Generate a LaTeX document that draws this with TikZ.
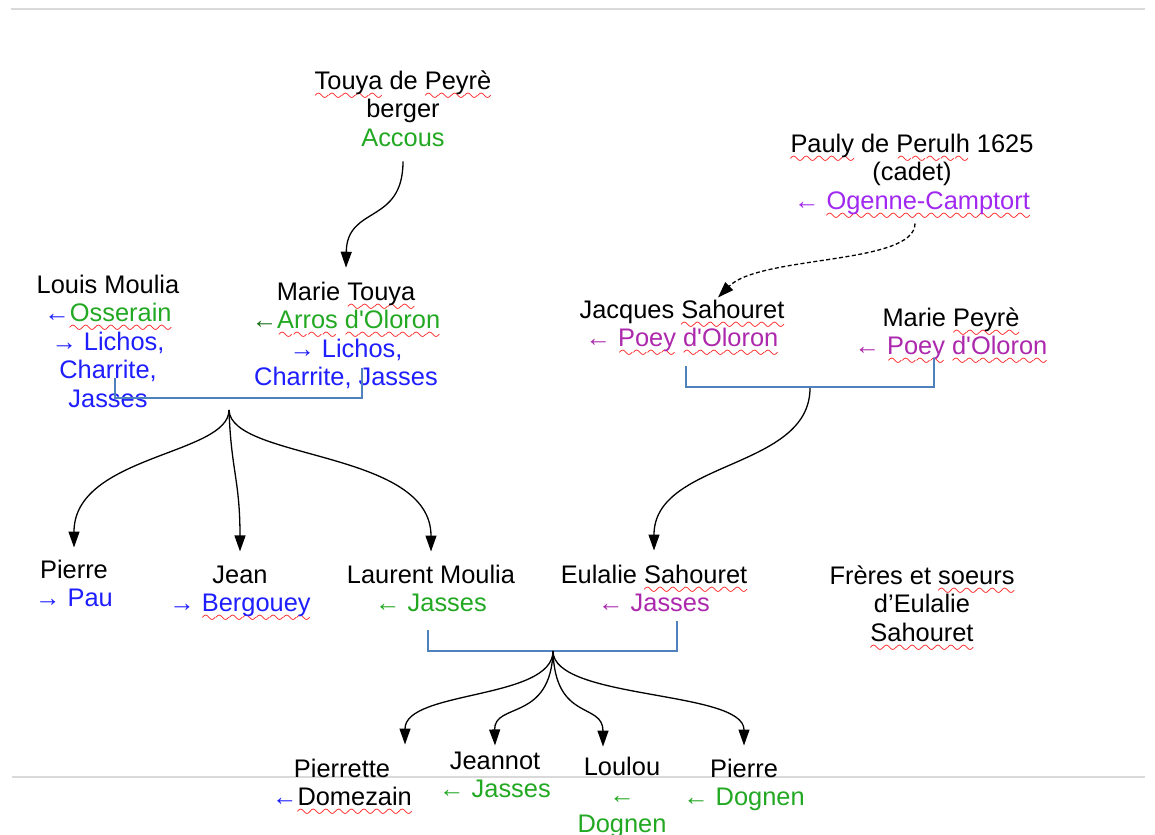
\documentclass[tikz,border=0pt]{standalone}
\usepackage{fontspec}
\setmainfont{Liberation Sans}[Ligatures=TeXOff]
\usetikzlibrary{arrows.meta}

\definecolor{vert}{RGB}{34,168,34}
\definecolor{vertfonce}{RGB}{24,110,24}
\definecolor{bleu}{RGB}{30,30,255}
\definecolor{lila}{RGB}{160,40,240}
\definecolor{prune}{RGB}{172,40,172}
\definecolor{lien}{RGB}{79,129,189}
\definecolor{gris}{RGB}{217,217,217}

% soulignement ondulé (correcteur)
\font\ondefont=lasy10 at 19bp
\newcommand\ondule[1]{\leavevmode\setbox0=\hbox{#1}\rlap{\smash{\lower11bp\hbox to \wd0{\color{red}\xleaders\hbox{\ondefont\char58}\hfil}}}\box0\relax}

\begin{document}
\begin{tikzpicture}[x=1bp, y=-1bp,
  every node/.style={font=\fontsize{25.5}{28.5}\selectfont, align=center, inner sep=2bp, anchor=base},
  lignee/.style={line width=1.3bp, -{Triangle[length=16bp,width=11bp]}},
  couple/.style={draw=lien, line width=1.4bp},
  bord/.style={draw=gris, line width=1.5bp}]

\useasboundingbox (0,0) rectangle (1155,835);

% Bords de page
\draw[bord] (11,9) -- (1145,9);
\draw[bord] (12,777) -- (1145,777);

% Ascendants (ancre = ligne de base de la derniere ligne)
\node (touya) at (403,146) {\ondule{Touya} de \ondule{Peyrè}\\berger\\\textcolor{vert}{Accous}};
\node (pauly) at (912,209) {\ondule{Pauly} de \ondule{Perulh} 1625\\(cadet)\\\textcolor{lila}{← \ondule{Ogenne-Camptort}}};

% Parents Moulia
\node (louis) at (108,407) {Louis Moulia\\\textcolor{bleu}{←}\textcolor{vert}{\ondule{Osserain}}\\\textcolor{bleu}{→ Lichos,}\\\textcolor{bleu}{Charrite,}\\\textcolor{bleu}{Jasses}};
\node (mtouya) at (346,385.5) {Marie \ondule{Touya}\\\textcolor{vertfonce}{←}\textcolor{vert}{\ondule{Arros} \ondule{d'Oloron}}\\\textcolor{bleu}{→ Lichos,}\\\textcolor{bleu}{Charrite, Jasses}};

% Parents Sahouret
\node (jacques) at (682,346.5) {Jacques \ondule{Sahouret}\\\textcolor{prune}{← \ondule{Poey} \ondule{d'Oloron}}};
\node (mpeyre) at (951,354.5) {Marie \ondule{Peyrè}\\\textcolor{prune}{← \ondule{Poey} \ondule{d'Oloron}}};

% Enfants
\node (pierre) at (74,606.5) {Pierre\\\textcolor{bleu}{→ Pau}};
\node (jean) at (240,611.5) {Jean\\\textcolor{bleu}{→ \ondule{Bergouey}}};
\node (laurent) at (431,611.5) {Laurent Moulia\\\textcolor{vert}{← Jasses}};
\node (eulalie) at (654,611.5) {Eulalie \ondule{Sahouret}\\\textcolor{prune}{← Jasses}};
\node (freres) at (922,641) {Frères et \ondule{soeurs}\\d’Eulalie\\\ondule{Sahouret}};

% Petits-enfants
\node (pierrette) at (342,805.5) {Pierrette\\\textcolor{bleu}{←}\ondule{Domezain}};
\node (jeannot) at (495,797.5) {Jeannot\\\textcolor{vert}{← Jasses}};
\node (loulou) at (622,832) {Loulou\\\textcolor{vert}{←}\\\textcolor{vert}{Dognen}};
\node (pierre2) at (744,805.5) {Pierre\\\textcolor{vert}{← Dognen}};

% Unions
\coordinate (c1g) at (115,378);
\coordinate (c1d) at (362,368);
\coordinate (f1) at (229,410);
\draw[couple] (c1g) -- ++(0,20) -| (c1d);

\coordinate (c2g) at (686,366);
\coordinate (c2d) at (934,358);
\coordinate (f2) at (810,388);
\draw[couple] (c2g) -- ++(0,21) -| (c2d);

\coordinate (c3g) at (428,630);
\coordinate (c3d) at (677,621);
\coordinate (f3) at (553,651);
\draw[couple] (c3g) -- ++(0,21) -| (c3d);

% Filiations
\draw[lignee] ([yshift=-13bp]touya.south) .. controls (403,225) and (347,205) .. ([yshift=12bp]mtouya.north);
\draw[lignee, dash pattern=on 4bp off 2.5bp] ([xshift=3bp,yshift=-7bp]pauly.south) .. controls (915,265) and (760,255) .. ([xshift=36bp]jacques.north);

\draw[lignee] (f1) .. controls (229,455) and (74,455) .. ([yshift=10bp]pierre.north);
\draw[lignee] (f1) .. controls (231,470) and (240,480) .. ([yshift=12bp]jean.north);
\draw[lignee] (f1) .. controls (231,460) and (431,450) .. ([yshift=11bp]laurent.north);

\draw[lignee] (f2) .. controls (810,470) and (654,460) .. ([yshift=12bp]eulalie.north);

\draw[lignee] (f3) .. controls (553,700) and (405,690) .. ([xshift=63bp,yshift=12bp]pierrette.north);
\draw[lignee] (f3) .. controls (551,722) and (494,702) .. ([yshift=4bp]jeannot.north);
\draw[lignee] (f3) .. controls (555,722) and (603,702) .. ([xshift=-19bp,yshift=8bp]loulou.north);
\draw[lignee] (f3) .. controls (553,700) and (744,690) .. ([yshift=11bp]pierre2.north);

\end{tikzpicture}
\end{document}
